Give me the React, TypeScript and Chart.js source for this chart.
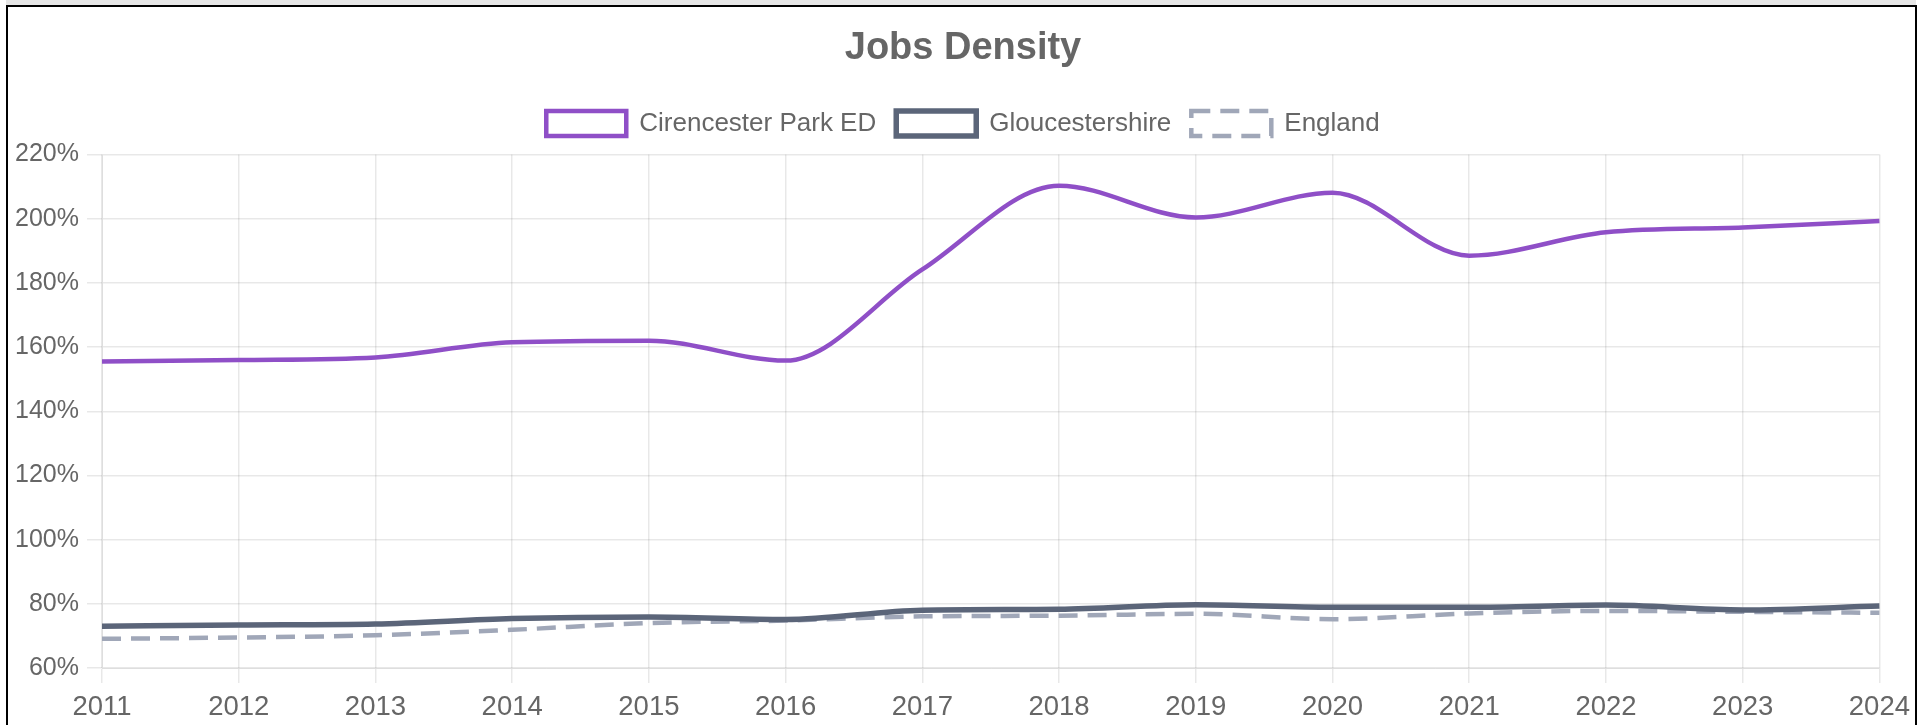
import React, { useEffect, useRef } from "react";
import { Chart, registerables } from "chart.js";

Chart.register(...registerables);

const years = ["2011", "2012", "2013", "2014", "2015", "2016", "2017", "2018", "2019", "2020", "2021", "2022", "2023", "2024"];
const cirencester = [155.5, 156, 156.8, 161.5, 162, 155.8, 184.2, 210.3, 200.4, 208.1, 188.5, 195.8, 197.3, 199.3];
const gloucestershire = [73, 73.4, 73.7, 75.4, 75.9, 75.1, 78, 78.3, 79.7, 78.9, 78.9, 79.6, 78.1, 79.3];
const england = [69.1, 69.5, 70.2, 71.9, 74, 74.8, 76.1, 76.3, 76.9, 75.2, 77, 77.8, 77.5, 77.2];

const FONT = "'Liberation Sans', Arial, Helvetica, sans-serif";

const legendSpacer = {
  id: "legendSpacer",
  beforeInit(chart: any) {
    const legend = chart.legend;
    if (!legend) return;
    const origFit = legend.fit;
    legend.fit = function () {
      origFit.call(this);
      this.height += 8;
    };
  },
};

export default function App() {
  const ref = useRef<HTMLCanvasElement | null>(null);

  useEffect(() => {
    if (!ref.current) return;
    const chart = new Chart(ref.current, {
      type: "line",
      data: {
        labels: years,
        datasets: [
          {
            label: "Cirencester Park ED",
            data: cirencester,
            borderColor: "#8f4fc7",
            backgroundColor: "#ffffff",
            borderWidth: 4.5,
            pointRadius: 0,
            cubicInterpolationMode: "monotone",
            fill: false,
          },
          {
            label: "Gloucestershire",
            data: gloucestershire,
            borderColor: "#5b6579",
            backgroundColor: "#ffffff",
            borderWidth: 5.5,
            pointRadius: 0,
            cubicInterpolationMode: "monotone",
            fill: false,
          },
          {
            label: "England",
            data: england,
            borderColor: "#a0a7b8",
            backgroundColor: "#ffffff",
            borderWidth: 4.5,
            borderDash: [19, 10],
            pointRadius: 0,
            cubicInterpolationMode: "monotone",
            fill: false,
          },
        ],
      },
      plugins: [legendSpacer],
      options: {
        responsive: false,
        animation: false,
        devicePixelRatio: 1,
        layout: { padding: { left: 0, right: 0, top: 0, bottom: 0 } },
        plugins: {
          title: {
            display: true,
            text: "Jobs Density",
            color: "#666",
            font: { family: FONT, size: 38, weight: "bold" },
            padding: { top: 19, bottom: 19 },
          },
          legend: {
            labels: {
              boxWidth: 80,
              boxHeight: 25,
              padding: 20,
              color: "#666",
              font: { family: FONT, size: 26 },
            },
          },
          tooltip: { enabled: false },
        },
        scales: {
          x: {
            grid: { color: "rgba(0,0,0,0.09)", lineWidth: 1.5, tickLength: 15 },
            border: { color: "rgba(0,0,0,0.09)" },
            ticks: {
              color: "#666",
              font: { family: FONT, size: 27.5 },
              padding: 8,
              maxRotation: 0,
              autoSkip: false,
            },
          },
          y: {
            min: 60,
            max: 220,
            afterFit: (scale: any) => {
              scale.width = 94;
            },
            grid: { color: "rgba(0,0,0,0.09)", lineWidth: 1.5, tickLength: 15 },
            border: { color: "rgba(0,0,0,0.09)" },
            ticks: {
              stepSize: 20,
              color: "#666",
              font: { family: FONT, size: 25 },
              padding: 8,
              callback: (v: any) => v + "%",
            },
          },
        },
      },
    });
    return () => chart.destroy();
  }, []);

  return (
    <div style={{ position: "fixed", left: 0, top: 0, width: 1928, height: 725, background: "#fff", overflow: "hidden" }}>
      <div style={{ position: "absolute", left: 6, top: 0, width: 1910, height: 5, background: "#e6e6e6" }} />
      <div
        style={{
          position: "absolute",
          left: 6,
          top: 5,
          width: 1911,
          height: 760,
          border: "2px solid #000",
          boxSizing: "border-box",
          background: "#fff",
        }}
      >
        <canvas
          ref={ref}
          width={1910}
          height={725}
          style={{ position: "absolute", left: 0, top: 0, width: 1910, height: 725, display: "block" }}
        />
      </div>
    </div>
  );
}
